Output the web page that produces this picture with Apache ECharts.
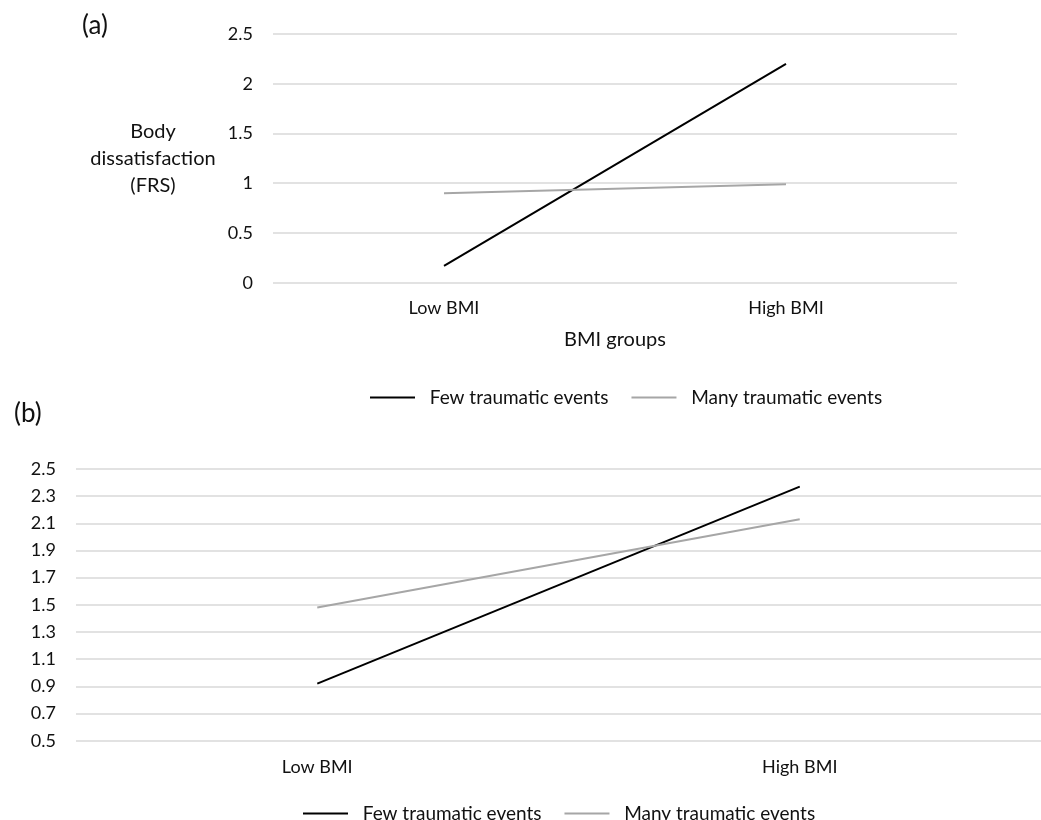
<!DOCTYPE html>
<html>
<head>
<meta charset="utf-8">
<script src="https://cdn.jsdelivr.net/npm/echarts@6/dist/echarts.min.js"></script>
<style>
  html, body { margin: 0; padding: 0; background: #fff; }
  #chart-container { width: 1041px; height: 820px; }
</style>
</head>
<body>
<div id="chart-container"></div>
<script>
var categories = ['Low BMI', 'High BMI'];
var seriesNames = ['Few traumatic events', 'Many traumatic events'];

// panel (a): body dissatisfaction (FRS)
var fewA = [0.17, 2.2];
var manyA = [0.9, 0.99];

// panel (b)
var fewB = [0.92, 2.37];
var manyB = [1.48, 2.13];

var fontName = 'Lato';
var textColor = '#111111';
var gridColor = '#d9d9d9';
var fewColor = '#000000';
var manyColor = '#a6a6a6';

var dom = document.getElementById('chart-container');
var myChart = echarts.init(dom, null, { renderer: 'canvas' });

function xAxisFor(idx, name, margin) {
    return {
        type: 'category',
        gridIndex: idx,
        data: categories,
        name: name,
        nameLocation: 'middle',
        nameGap: 47,
        nameTextStyle: { color: textColor, fontFamily: fontName, fontSize: 20 },
        axisLine: { show: false },
        axisTick: { show: false },
        axisLabel: { color: textColor, fontFamily: fontName, fontSize: 18, margin: margin }
    };
}

function yAxisFor(idx, min, max, interval) {
    return {
        type: 'value',
        gridIndex: idx,
        min: min,
        max: max,
        interval: interval,
        axisLine: { show: false },
        axisTick: { show: false },
        axisLabel: { color: textColor, fontFamily: fontName, fontSize: 18, margin: 20 },
        splitLine: { lineStyle: { color: gridColor, width: 1.5 } }
    };
}

function lineSeries(name, data, color, idx) {
    return {
        name: name,
        type: 'line',
        xAxisIndex: idx,
        yAxisIndex: idx,
        data: data,
        symbol: 'none',
        lineStyle: { color: color, width: 2 },
        itemStyle: { color: color },
        silent: true
    };
}

function legendFor(left, top) {
    return {
        data: seriesNames.map(function (n) { return { name: n, icon: 'rect' }; }),
        left: left,
        top: top,
        itemWidth: 45,
        itemHeight: 2,
        itemGap: 23,
        formatter: function (n) { return '  ' + n; },
        textStyle: { color: textColor, fontFamily: fontName, fontSize: 19 },
        selectedMode: false
    };
}

var yA = yAxisFor(0, 0, 2.5, 0.5);
yA.name = 'Body\ndissatisfaction\n(FRS)';
yA.nameLocation = 'middle';
yA.nameRotate = 0;
yA.nameGap = 120;
yA.nameTextStyle = { color: textColor, fontFamily: fontName, fontSize: 20, align: 'center', lineHeight: 27 };

var option = {
    animation: false,
    title: [
        { text: '(a)', left: 77, top: 8, textStyle: { color: textColor, fontFamily: fontName, fontSize: 26, fontWeight: 'normal' } },
        { text: '(b)', left: 9, top: 396, textStyle: { color: textColor, fontFamily: fontName, fontSize: 26, fontWeight: 'normal' } }
    ],
    grid: [
        { left: 273, right: 84, top: 34, height: 248.7 },
        { left: 76, right: -7, top: 469, height: 271.7 }
    ],
    xAxis: [
        xAxisFor(0, 'BMI groups', 16),
        xAxisFor(1, '', 17)
    ],
    yAxis: [
        yA,
        yAxisFor(1, 0.5, 2.5, 0.2)
    ],
    legend: [
        legendFor(365, 383),
        legendFor(298, 799)
    ],
    series: [
        lineSeries(seriesNames[0], fewA, fewColor, 0),
        lineSeries(seriesNames[1], manyA, manyColor, 0),
        lineSeries(seriesNames[0], fewB, fewColor, 1),
        lineSeries(seriesNames[1], manyB, manyColor, 1)
    ]
};

myChart.setOption(option);
window.addEventListener('resize', myChart.resize);
</script>
</body>
</html>
